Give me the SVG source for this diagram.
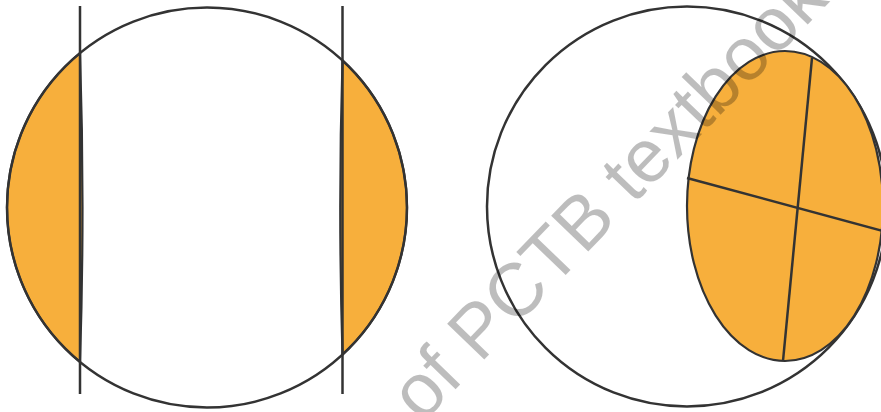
<svg xmlns="http://www.w3.org/2000/svg" width="881" height="412" viewBox="0 0 881 412">
<style>
.ln{fill:none;stroke:#333333;stroke-width:2.5;stroke-linecap:butt}
.or{fill:#F7AF3C;stroke:#333333;stroke-width:2.2}
.wm{font-family:"Liberation Sans",Arial,sans-serif;font-size:75px;fill:#000000;fill-opacity:0.26}
</style>
<rect width="881" height="412" fill="#ffffff"/>
<g id="left-figure">
<path class="or" d="M80,53 A200,200 0 0 0 80,362 Q85,207 80,53 Z"/>
<path class="or" d="M342.5,60.4 A200,200 0 0 1 342.5,354.6 Q338,207 342.5,60.4 Z"/>
<circle class="ln" cx="207" cy="207.5" r="200"/>
<line class="ln" x1="80" y1="6" x2="80" y2="394"/>
<line class="ln" x1="342.5" y1="6" x2="342.5" y2="394"/>
</g>
<g id="right-figure">
<circle class="ln" cx="687" cy="206.5" r="200"/>
<ellipse class="or" cx="785" cy="206" rx="98" ry="155"/>
<line class="ln" x1="812" y1="58" x2="783" y2="361"/>
<line class="ln" x1="687" y1="178" x2="883" y2="231"/>
</g>
<text class="wm" x="422" y="424" transform="rotate(-46 422 424)">of PCTB textbook</text>
</svg>
